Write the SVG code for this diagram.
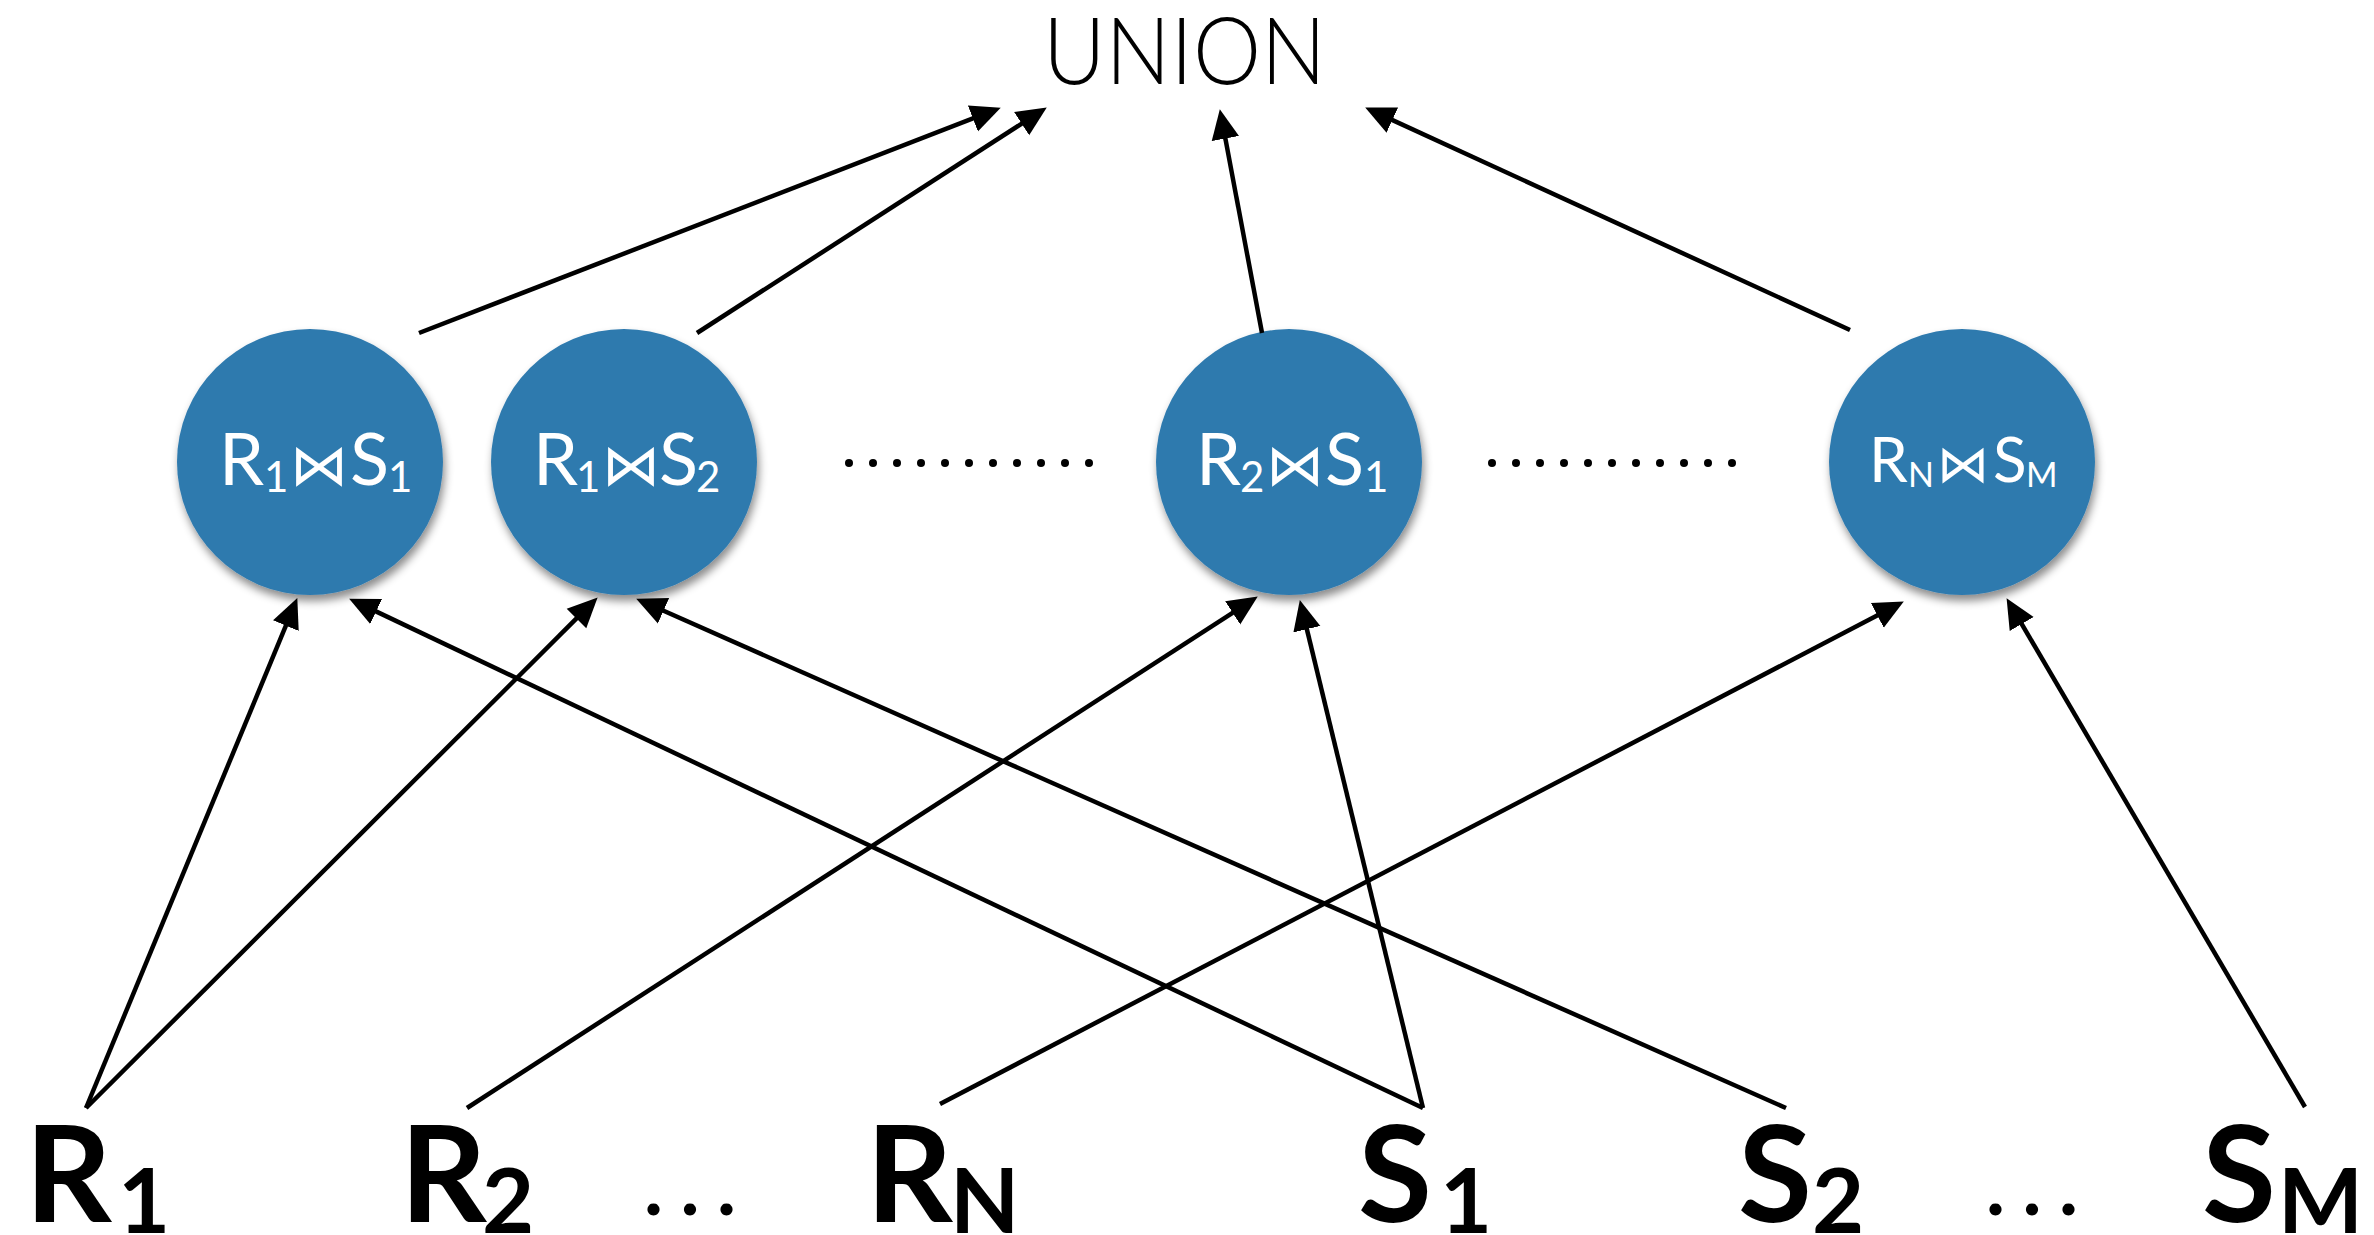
<svg xmlns="http://www.w3.org/2000/svg" width="2374" height="1235" viewBox="0 0 2374 1235">
  <defs>
    <marker id="ah" markerUnits="userSpaceOnUse" markerWidth="32" markerHeight="32" viewBox="0 -14 30 28" refX="15" refY="0" orient="auto">
      <path d="M0,-13 L28,0 L0,13 z" fill="#000"/>
    </marker>
    <filter id="sh" x="-20%" y="-20%" width="140%" height="150%">
      <feDropShadow dx="2" dy="6" stdDeviation="4" flood-color="#000" flood-opacity="0.45"/>
    </filter>
  </defs>
  <style>
    .bg { fill: #ffffff; }
    .circ { fill: #2F7AAE; filter: url(#sh); }
    .nl { font-family: Lato, "Open Sans", "DejaVu Sans", sans-serif; fill: #ffffff; font-size: 72px; }
    .nl .sub { font-size: 42px; }
    .nl .bt { font-family: "DejaVu Sans", sans-serif; font-weight: 200; font-size: 58px; }
    .sm { font-size: 62px; }
    .sm .sub { font-size: 34px; }
    .sm .bt { font-size: 52px; }
    .lbl { font-family: Lato, "Open Sans", "DejaVu Sans", sans-serif; font-weight: 700; fill: #000; font-size: 135px; }
    .lbl .sub { font-size: 90px; }
    .dots { font-family: Lato, "DejaVu Sans", sans-serif; font-weight: 700; fill: #000; font-size: 80px; }
    .union { font-family: Lato, "Open Sans", "DejaVu Sans", sans-serif; font-weight: 300; fill: #000; font-size: 92px; }
    .conn line { stroke: #000; stroke-width: 4.5; marker-end: url(#ah); }
    .ell circle { fill: #000; }
  </style>
  <rect class="bg" x="0" y="0" width="2374" height="1235"/>

  <g id="union">
    <text class="union" x="1043" y="84" textLength="283" lengthAdjust="spacingAndGlyphs">UNION</text>
  </g>

  <g id="node-r1s1">
    <circle class="circ" cx="310" cy="462" r="133"/>
    <text class="nl"><tspan x="219" y="485">R</tspan><tspan class="sub" x="264" y="492">1</tspan><tspan class="bt" x="290" y="485">⋈</tspan><tspan x="350" y="485">S</tspan><tspan class="sub" x="388" y="492">1</tspan></text>
  </g>
  <g id="node-r1s2">
    <circle class="circ" cx="624" cy="462" r="133"/>
    <text class="nl"><tspan x="533" y="485">R</tspan><tspan class="sub" x="576" y="492">1</tspan><tspan class="bt" x="602" y="485">⋈</tspan><tspan x="659" y="485">S</tspan><tspan class="sub" x="696" y="492">2</tspan></text>
  </g>
  <g id="node-r2s1">
    <circle class="circ" cx="1289" cy="462" r="133"/>
    <text class="nl"><tspan x="1196" y="485">R</tspan><tspan class="sub" x="1240" y="492">2</tspan><tspan class="bt" x="1266" y="485">⋈</tspan><tspan x="1325" y="485">S</tspan><tspan class="sub" x="1364" y="492">1</tspan></text>
  </g>
  <g id="node-rnsm">
    <circle class="circ" cx="1962" cy="462" r="133"/>
    <text class="nl sm"><tspan x="1869" y="482">R</tspan><tspan class="sub" x="1908" y="487">N</tspan><tspan class="bt" x="1937" y="482">⋈</tspan><tspan x="1993" y="482">S</tspan><tspan class="sub" x="2026" y="487">M</tspan></text>
  </g>

  <g id="ellipsis-top" class="ell">
    <circle cx="849" cy="463" r="4"/><circle cx="873" cy="463" r="4"/><circle cx="897" cy="463" r="4"/><circle cx="921" cy="463" r="4"/><circle cx="945" cy="463" r="4"/><circle cx="969" cy="463" r="4"/><circle cx="993" cy="463" r="4"/><circle cx="1017" cy="463" r="4"/><circle cx="1041" cy="463" r="4"/><circle cx="1065" cy="463" r="4"/><circle cx="1089" cy="463" r="4"/>
    <circle cx="1492" cy="463" r="4"/><circle cx="1516" cy="463" r="4"/><circle cx="1540" cy="463" r="4"/><circle cx="1564" cy="463" r="4"/><circle cx="1588" cy="463" r="4"/><circle cx="1612" cy="463" r="4"/><circle cx="1636" cy="463" r="4"/><circle cx="1660" cy="463" r="4"/><circle cx="1684" cy="463" r="4"/><circle cx="1708" cy="463" r="4"/><circle cx="1732" cy="463" r="4"/>
  </g>

  <g id="node-R1"><text class="lbl"><tspan x="25" y="1222">R</tspan><tspan class="sub" x="118" y="1233">1</tspan></text></g>
  <g id="node-R2"><text class="lbl"><tspan x="400" y="1222">R</tspan><tspan class="sub" x="482" y="1233">2</tspan></text></g>
  <g id="dots-R"><text class="dots" x="644" y="1215" textLength="92" lengthAdjust="spacing">...</text></g>
  <g id="node-RN"><text class="lbl"><tspan x="866" y="1222">R</tspan><tspan class="sub" x="950" y="1233">N</tspan></text></g>
  <g id="node-S1"><text class="lbl"><tspan x="1358" y="1222">S</tspan><tspan class="sub" x="1440" y="1233">1</tspan></text></g>
  <g id="node-S2"><text class="lbl"><tspan x="1738" y="1222">S</tspan><tspan class="sub" x="1812" y="1233">2</tspan></text></g>
  <g id="dots-S"><text class="dots" x="1986" y="1215" textLength="92" lengthAdjust="spacing">...</text></g>
  <g id="node-SM"><text class="lbl"><tspan x="2202" y="1222">S</tspan><tspan class="sub" x="2278" y="1233">M</tspan></text></g>

  <g id="connectors" class="conn">
    <line x1="419" y1="333" x2="987.8" y2="112.7"/>
    <line x1="697" y1="333" x2="1035.1" y2="115.0"/>
    <line x1="1262" y1="333" x2="1222.4" y2="122.8"/>
    <line x1="1850" y1="330" x2="1377.8" y2="113.4"/>
    <line x1="86" y1="1108" x2="292.0" y2="610.9"/>
    <line x1="86" y1="1108" x2="587.8" y2="607.2"/>
    <line x1="1423" y1="1108" x2="361.7" y2="604.6"/>
    <line x1="1786" y1="1108" x2="648.9" y2="604.3"/>
    <line x1="467" y1="1108" x2="1246.1" y2="604.1"/>
    <line x1="1423" y1="1108" x2="1303.1" y2="613.6"/>
    <line x1="940" y1="1104" x2="1891.5" y2="608.0"/>
    <line x1="2305" y1="1107" x2="2013.6" y2="610.2"/>
  </g>
</svg>
